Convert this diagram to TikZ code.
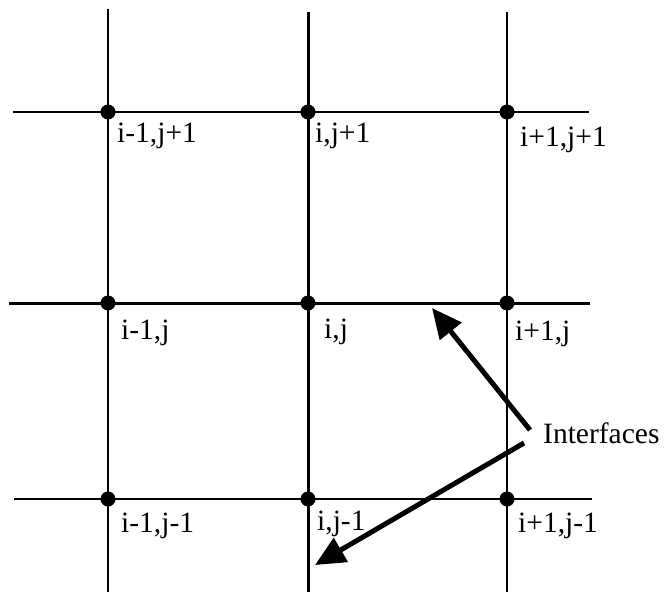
\documentclass[tikz,border=0pt]{standalone}
\usepackage{fontspec}
\setmainfont{Liberation Serif}
\usetikzlibrary{arrows.meta}
\begin{document}
\begin{tikzpicture}[x=1pt,y=-1pt,
  thinline/.style={line width=2pt},
  thickline/.style={line width=3pt},
  gdot/.style={circle,fill=black,inner sep=0pt,minimum size=15pt},
  lbl/.style={anchor=base west,inner sep=0pt,font=\fontsize{29.5}{32}\selectfont},
  ptr/.style={line width=5pt,-{Triangle[length=30pt,width=27pt]}}]
\useasboundingbox (0,0) rectangle (666,596);
% grid lines
\draw[thinline] (108,9) -- (108,592);
\draw[thickline] (308,12) -- (308,592);
\draw[thinline] (507,12) -- (507,592);
\draw[thinline] (13,112) -- (589,112);
\draw[thickline] (9,303) -- (590,303);
\draw[thinline] (14,499) -- (592,499);
% grid points
\node[gdot] (a1) at (108,112) {};
\node[gdot] (b1) at (308,112) {};
\node[gdot] (c1) at (507,112) {};
\node[gdot] (a2) at (108,303) {};
\node[gdot] (b2) at (308,303) {};
\node[gdot] (c2) at (507,303) {};
\node[gdot] (a3) at (108,499) {};
\node[gdot] (b3) at (308,499) {};
\node[gdot] (c3) at (507,499) {};
% labels
\node[lbl] (la1) at (117,143) {i-1,j+1};
\node[lbl] (lb1) at (315,143) {i,j+1};
\node[lbl] (lc1) at (520,147) {i+1,j+1};
\node[lbl] (la2) at (121,339) {i-1,j};
\node[lbl] (lb2) at (324,338) {i,j};
\node[lbl] (lc2) at (515,340) {i+1,j};
\node[lbl] (la3) at (121,532) {i-1,j-1};
\node[lbl] (lb3) at (317,530) {i,j-1};
\node[lbl] (lc3) at (518,532) {i+1,j-1};
\node[lbl] (intf) at (543,443) {Interfaces};
% arrows
\coordinate (t1) at (530,430);
\coordinate (h1) at (432,308);
\coordinate (t2) at (524,443);
\coordinate (h2) at (315,565);
\draw[ptr] (t1) -- (h1);
\draw[ptr] (t2) -- (h2);
\end{tikzpicture}
\end{document}
